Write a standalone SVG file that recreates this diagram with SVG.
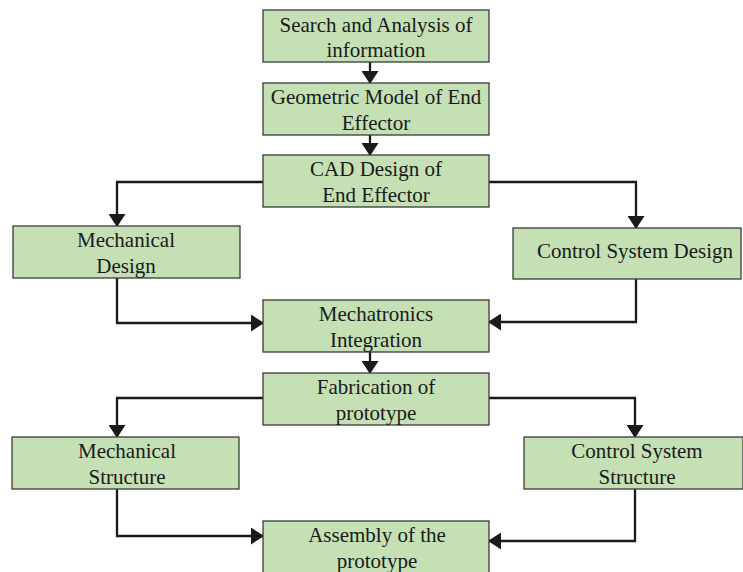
<svg xmlns="http://www.w3.org/2000/svg" width="743" height="572" viewBox="0 0 743 572">
<style>
.box{fill:#c5e0b4;stroke:#3a3a3a;stroke-width:1.3}
.t{font-family:"Liberation Serif","Times New Roman",serif;font-size:21px;fill:#1a1a1a;text-anchor:middle}
.c{fill:none;stroke:#1a1a1a;stroke-width:2.3}
</style>
<defs>
<marker id="ah" viewBox="0 0 13 17" refX="12" refY="8.5" markerWidth="13" markerHeight="17" orient="auto" markerUnits="userSpaceOnUse">
<path d="M0,0 L13,8.5 L0,17 Z" fill="#1a1a1a"/>
</marker>
</defs>
<rect width="743" height="572" fill="#ffffff"/>
<g id="connectors">
<path class="c" d="M370,62 V83" marker-end="url(#ah)"/>
<path class="c" d="M370,135 V155" marker-end="url(#ah)"/>
<path class="c" d="M263,182 H117 V226" marker-end="url(#ah)"/>
<path class="c" d="M489,182 H636 V228" marker-end="url(#ah)"/>
<path class="c" d="M117,278 V323 H263" marker-end="url(#ah)"/>
<path class="c" d="M636,279 V322 H489" marker-end="url(#ah)"/>
<path class="c" d="M370,352 V373" marker-end="url(#ah)"/>
<path class="c" d="M263,398 H117 V437" marker-end="url(#ah)"/>
<path class="c" d="M489,398 H635 V437" marker-end="url(#ah)"/>
<path class="c" d="M117,489 V536 H263" marker-end="url(#ah)"/>
<path class="c" d="M635,489 V541 H489" marker-end="url(#ah)"/>
</g>
<g id="search">
<rect class="box" x="263" y="10" width="226" height="52"/>
<text class="t" x="376" y="32">Search and Analysis of</text>
<text class="t" x="376" y="57">information</text>
</g>
<g id="geometric">
<rect class="box" x="263" y="83" width="226" height="52"/>
<text class="t" x="376" y="104">Geometric Model of End</text>
<text class="t" x="376" y="130">Effector</text>
</g>
<g id="cad">
<rect class="box" x="263" y="155" width="226" height="52"/>
<text class="t" x="376" y="176">CAD Design of</text>
<text class="t" x="376" y="202">End Effector</text>
</g>
<g id="mechdesign">
<rect class="box" x="13" y="226" width="227" height="52"/>
<text class="t" x="126" y="247">Mechanical</text>
<text class="t" x="126" y="273">Design</text>
</g>
<g id="ctrldesign">
<rect class="box" x="513" y="228" width="228" height="51"/>
<text class="t" x="635" y="258">Control System Design</text>
</g>
<g id="mechatronics">
<rect class="box" x="263" y="300" width="226" height="52"/>
<text class="t" x="376" y="321">Mechatronics</text>
<text class="t" x="376" y="347">Integration</text>
</g>
<g id="fabrication">
<rect class="box" x="263" y="373" width="226" height="52"/>
<text class="t" x="376" y="394">Fabrication of</text>
<text class="t" x="376" y="420">prototype</text>
</g>
<g id="mechstructure">
<rect class="box" x="12" y="437" width="227" height="52"/>
<text class="t" x="127" y="458">Mechanical</text>
<text class="t" x="127" y="484">Structure</text>
</g>
<g id="ctrlstructure">
<rect class="box" x="524" y="437" width="219" height="52"/>
<text class="t" x="637" y="458">Control System</text>
<text class="t" x="637" y="484">Structure</text>
</g>
<g id="assembly">
<rect class="box" x="263" y="521" width="226" height="60"/>
<text class="t" x="377" y="542">Assembly of the</text>
<text class="t" x="377" y="568">prototype</text>
</g>
</svg>
